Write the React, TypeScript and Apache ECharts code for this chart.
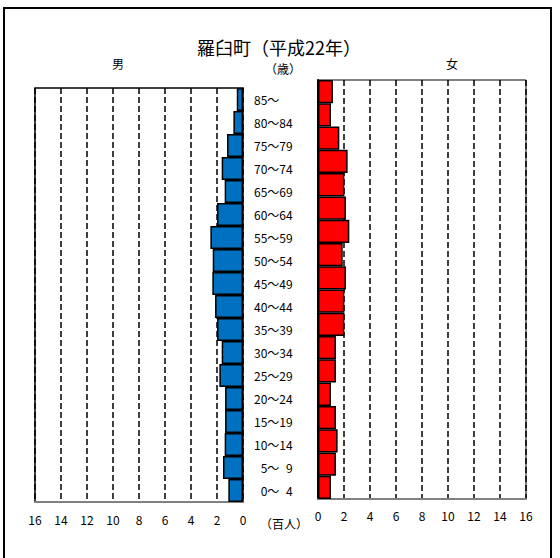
import React, { useEffect, useRef } from "react";
import * as echarts from "echarts";

const ages = [
  "85～", "80～84", "75～79", "70～74", "65～69", "60～64", "55～59", "50～54", "45～49",
  "40～44", "35～39", "30～34", "25～29", "20～24", "15～19", "10～14", "\u20075～\u20079", "\u20070～\u20074",
];
const male = [0.48, 0.74, 1.23, 1.64, 1.41, 2.0, 2.51, 2.33, 2.36, 2.15, 2.0, 1.64, 1.82, 1.38, 1.38, 1.41, 1.54, 1.13];
const female = [1.15, 1.0, 1.64, 2.28, 2.03, 2.15, 2.41, 1.9, 2.15, 2.03, 2.03, 1.38, 1.38, 1.0, 1.38, 1.51, 1.38, 1.0];

const titleText = "羅臼町（平成22年）";
const FONT = "'Noto Sans CJK JP', 'Noto Sans', sans-serif";

export default function App() {
  const ref = useRef<HTMLDivElement>(null);
  useEffect(() => {
    if (!ref.current) return;
    const chart = echarts.init(ref.current, undefined, { renderer: "svg" });
    const splitLine = { show: true, lineStyle: { color: "#000", width: 1.5, type: [6, 3] as any } };
    chart.setOption({
      animation: false,
      backgroundColor: "#fff",
      textStyle: { fontFamily: FONT },
      grid: [
        { left: 35, right: 317, top: 88, bottom: 56, show: true, borderColor: "#000", borderWidth: 1.5, backgroundColor: "#fff" },
        { left: 318, right: 34, top: 80, bottom: 59, show: true, borderColor: "#000", borderWidth: 1, backgroundColor: "#fff" },
      ],
      xAxis: [
        {
          gridIndex: 0, type: "value", min: 0, max: 16, interval: 2, inverse: true,
          axisLine: { show: true, lineStyle: { color: "#808080", width: 2 } },
          axisTick: { show: false },
          axisLabel: { color: "#000", fontSize: 12, margin: 11, fontFamily: FONT },
          splitLine,
        },
        {
          gridIndex: 1, type: "value", min: 0, max: 16, interval: 2,
          axisLine: { show: true, lineStyle: { color: "#808080", width: 2 } },
          axisTick: { show: false },
          axisLabel: { color: "#000", fontSize: 12, margin: 10, fontFamily: FONT },
          splitLine,
        },
      ],
      yAxis: [
        {
          gridIndex: 0, type: "category", data: ages, inverse: true, position: "right",
          axisLine: { show: false }, axisTick: { show: false },
          axisLabel: { show: true, align: "left", margin: 11, color: "#000", fontSize: 12, fontFamily: FONT },
        },
        {
          gridIndex: 1, type: "category", data: ages, inverse: true, position: "right",
          axisLine: { show: true, lineStyle: { color: "#000", width: 2 } }, axisTick: { show: false },
          axisLabel: { show: false },
        },
      ],
      series: [
        {
          type: "bar", xAxisIndex: 0, yAxisIndex: 0, data: male, barCategoryGap: "0%",
          itemStyle: { color: "#0070C0", borderColor: "#000", borderWidth: 1.5 },
        },
        {
          type: "bar", xAxisIndex: 1, yAxisIndex: 1, data: female, barCategoryGap: "0%",
          itemStyle: { color: "#FF0000", borderColor: "#000", borderWidth: 1.5 },
        },
      ],
      graphic: [
        { type: "rect", shape: { x: 4, y: 8, width: 547, height: 570 }, style: { fill: "none", stroke: "#000", lineWidth: 2 }, silent: true },
        { type: "text", x: 279, y: 47, style: { text: titleText, font: `18px ${FONT}`, fill: "#000", textAlign: "center", textVerticalAlign: "middle" } },
        { type: "text", x: 118, y: 63, style: { text: "男", font: `12px ${FONT}`, fill: "#000", textAlign: "center", textVerticalAlign: "middle" } },
        { type: "text", x: 452, y: 63, style: { text: "女", font: `12px ${FONT}`, fill: "#000", textAlign: "center", textVerticalAlign: "middle" } },
        { type: "text", x: 283, y: 68, style: { text: "（歳）", font: `12px ${FONT}`, fill: "#000", textAlign: "center", textVerticalAlign: "middle" } },
        { type: "text", x: 284, y: 523, style: { text: "（百人）", font: `12px ${FONT}`, fill: "#000", textAlign: "center", textVerticalAlign: "middle" } },
      ],
    });
    return () => chart.dispose();
  }, []);
  return <div ref={ref} style={{ position: "fixed", left: 0, top: 0, width: 560, height: 558 }} />;
}
